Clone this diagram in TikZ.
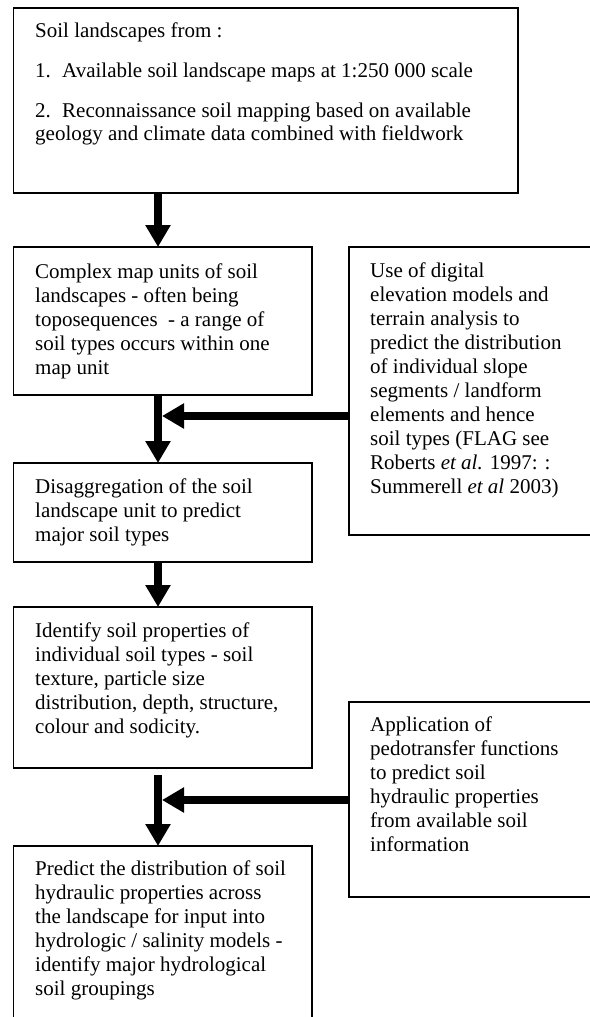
\documentclass[tikz,border=0pt]{standalone}
\usepackage{fontspec}
\setmainfont{Liberation Serif}
\usetikzlibrary{arrows.meta}
\newcommand{\blk}[1]{\vtop{\baselineskip=24pt\lineskiplimit=-100pt\halign{##\hfil\cr#1\crcr}}}
\begin{document}
\begin{tikzpicture}[x=1pt,y=-1pt,
  box/.style={draw,line width=1.8pt,anchor=north west,inner sep=0pt,outer sep=0pt},
  txt/.style={anchor=base west,inner sep=0pt,font=\fontsize{21}{24}\selectfont},
  arr/.style={line width=8pt,-{Triangle[length=22pt,width=24pt]}}]
\useasboundingbox (0,0) rectangle (589,1017);
% boxes
\node[box,minimum width=504.5pt,minimum height=185pt] (b1) at (13.5,8) {};
\node[box,minimum width=298.5pt,minimum height=148pt] (b2) at (13.5,247) {};
\node[box,minimum width=260pt,minimum height=288pt] (r1) at (349,247) {};
\node[box,minimum width=298.5pt,minimum height=99pt] (b3) at (13.5,463) {};
\node[box,minimum width=298.5pt,minimum height=161pt] (b4) at (13.5,607) {};
\node[box,minimum width=260pt,minimum height=195pt] (r2) at (349,702) {};
\node[box,minimum width=298.5pt,minimum height=200pt] (b5) at (13.5,846) {};
% texts
\node[txt] (t1) at (35,37) {\blk{Soil landscapes from :\cr\noalign{\vskip16pt}
\hbox to 27pt{1.\hfil}Available soil landscape maps at 1:250 000 scale\cr\noalign{\vskip16pt}
\hbox to 27pt{2.\hfil}Reconnaissance soil mapping based on available\cr
geology and climate data combined with fieldwork}};
\node[txt] (t2) at (35,278) {\blk{Complex map units of soil\cr
landscapes - often being\cr
toposequences\ \ - a range of\cr
soil types occurs within one\cr
map unit}};
\node[txt] (tr1) at (370,277) {\blk{Use of digital\cr
elevation models and\cr
terrain analysis to\cr
predict the distribution\cr
of individual slope\cr
segments / landform\cr
elements and hence\cr
soil types (FLAG see\cr
Roberts \textit{et al.} 1997: :\cr
Summerell \textit{et al} 2003)}};
\node[txt] (t3) at (35,493) {\blk{Disaggregation of the soil\cr
landscape unit to predict\cr
major soil types}};
\node[txt] (t4) at (35,637) {\blk{Identify soil properties of\cr
individual soil types - soil\cr
texture, particle size\cr
distribution, depth, structure,\cr
colour and sodicity.}};
\node[txt] (tr2) at (370,731) {\blk{Application of\cr
pedotransfer functions\cr
to predict soil\cr
hydraulic properties\cr
from available soil\cr
information}};
\node[txt] (t5) at (35,875) {\blk{Predict the distribution of soil\cr
hydraulic properties across\cr
the landscape for input into\cr
hydrologic / salinity models -\cr
identify major hydrological\cr
soil groupings}};
% connectors
\coordinate (ax) at (158,0);
\coordinate (j1) at (162,416);
\coordinate (j2) at (162,800);
\coordinate (v4s) at (158,775);
\draw[arr] (b1.south -| ax) -- (b2.north -| ax);
\draw[arr] (r1.west |- j1) -- (j1);
\draw[arr] (b2.south -| ax) -- (b3.north -| ax);
\draw[arr] (b3.south -| ax) -- (b4.north -| ax);
\draw[arr] (r2.west |- j2) -- (j2);
\draw[arr] (v4s) -- (b5.north -| ax);
\end{tikzpicture}
\end{document}
